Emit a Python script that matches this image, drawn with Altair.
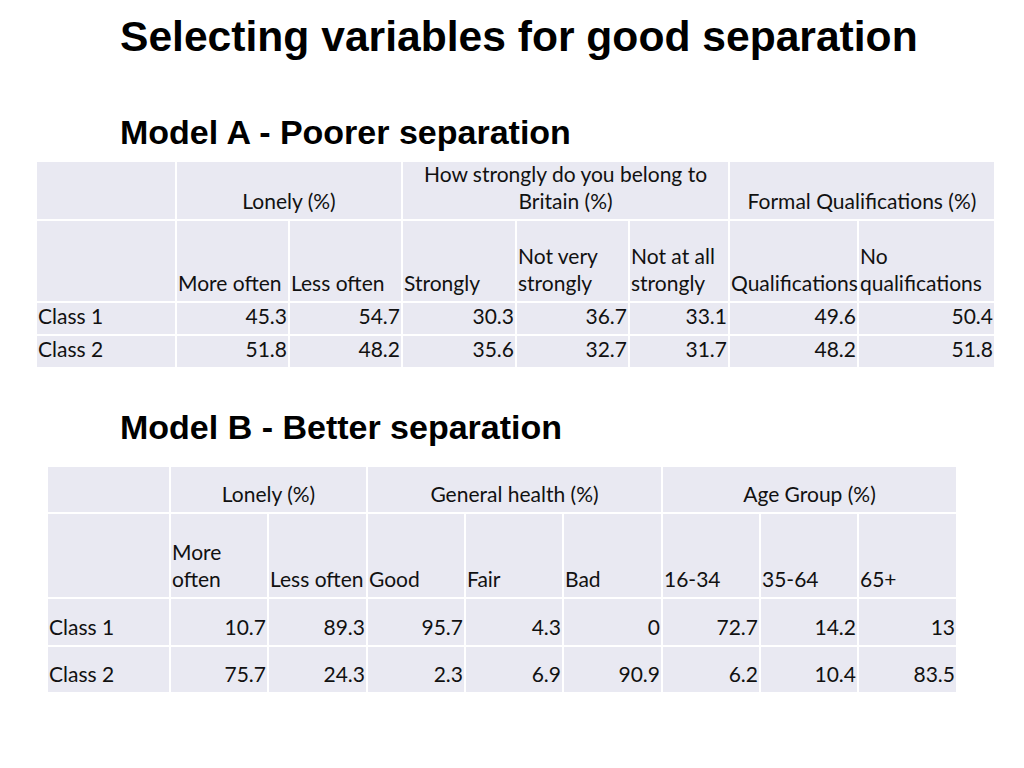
import altair as alt
import pandas as pd

# ---------------- data ----------------
title_main = "Selecting variables for good separation"
title_a = "Model A - Poorer separation"
title_b = "Model B - Better separation"

row_labels = ["Class 1", "Class 2"]

a_groups = ["Lonely (%)", "How strongly do you belong to\nBritain (%)", "Formal Qualifications (%)"]
a_spans = [2, 3, 2]
a_cats = ["More often", "Less often", "Strongly", "Not very\nstrongly", "Not at all\nstrongly",
          "Qualifications", "No\nqualifications"]
a_class1 = [45.3, 54.7, 30.3, 36.7, 33.1, 49.6, 50.4]
a_class2 = [51.8, 48.2, 35.6, 32.7, 31.7, 48.2, 51.8]

b_groups = ["Lonely (%)", "General health (%)", "Age Group (%)"]
b_spans = [2, 3, 3]
b_cats = ["More\noften", "Less often", "Good", "Fair", "Bad", "16-34", "35-64", "65+"]
b_class1 = [10.7, 89.3, 95.7, 4.3, 0, 72.7, 14.2, 13]
b_class2 = [75.7, 24.3, 2.3, 6.9, 90.9, 6.2, 10.4, 83.5]

# ---------------- layout (pixel grid of the slide) ----------------
A_X = [36, 176, 289, 402, 516, 629, 729, 858, 995]
A_Y = [161, 220, 302, 335, 368]
B_X = [47, 170, 268, 367, 465, 563, 662, 760, 858, 957]
B_Y = [466, 513, 598, 646, 693]
TITLE_POS = [(120, 51, 42.6), (120, 144, 34), (120, 439, 34)]
LINE_H = 27.5
TEXT_UP = 17
PAD = 2

FILL = "#e9e9f2"
FONT = "Lato"
FS = 21


def fmt(v):
    return f"{v:g}"


rects, texts = [], []


def build(xs, ys, groups, spans, cats, rows, vals):
    # header row 1
    rects.append(dict(x=xs[0], x2=xs[1], y=ys[0], y2=ys[1]))
    c = 1
    for g, s in zip(groups, spans):
        x0, x1 = xs[c], xs[c + s]
        rects.append(dict(x=x0, x2=x1, y=ys[0], y2=ys[1]))
        lines = g.split("\n")
        for k, ln in enumerate(lines):
            texts.append(dict(x=(x0 + x1) / 2, y=ys[1] - TEXT_UP - (len(lines) - 1 - k) * LINE_H,
                              t=ln, al="center"))
        c += s
    # header row 2
    rects.append(dict(x=xs[0], x2=xs[1], y=ys[1], y2=ys[2]))
    for i, cat in enumerate(cats):
        rects.append(dict(x=xs[i + 1], x2=xs[i + 2], y=ys[1], y2=ys[2]))
        lines = cat.split("\n")
        for k, ln in enumerate(lines):
            texts.append(dict(x=xs[i + 1] + PAD, y=ys[2] - TEXT_UP - (len(lines) - 1 - k) * LINE_H,
                              t=ln, al="left"))
    # data rows
    for r, (lab, rv) in enumerate(zip(rows, vals)):
        y0, y1 = ys[2 + r], ys[3 + r]
        rects.append(dict(x=xs[0], x2=xs[1], y=y0, y2=y1))
        texts.append(dict(x=xs[0] + PAD, y=y1 - TEXT_UP, t=lab, al="left"))
        for i, v in enumerate(rv):
            rects.append(dict(x=xs[i + 1], x2=xs[i + 2], y=y0, y2=y1))
            texts.append(dict(x=xs[i + 2] - PAD, y=y1 - TEXT_UP, t=fmt(v), al="right"))


build(A_X, A_Y, a_groups, a_spans, a_cats, row_labels, [a_class1, a_class2])
build(B_X, B_Y, b_groups, b_spans, b_cats, row_labels, [b_class1, b_class2])

rect_df = pd.DataFrame(rects)
text_df = pd.DataFrame(texts)
title_df = pd.DataFrame([dict(x=p[0], y=p[1], fs=p[2], t=t)
                         for p, t in zip(TITLE_POS, [title_main, title_a, title_b])])

W, H = 1008, 752
xs = alt.Scale(domain=[8, 8 + W], nice=False, zero=False)
ys = alt.Scale(domain=[8, 8 + H], nice=False, zero=False, reverse=True)

X = lambda f: alt.X(f"{f}:Q", scale=xs, axis=None)
Y = lambda f: alt.Y(f"{f}:Q", scale=ys, axis=None)

cells = alt.Chart(rect_df).mark_rect(fill=FILL, stroke="white", strokeWidth=2).encode(
    x=X("x"), x2="x2", y=Y("y"), y2="y2")

layers = [cells]
for al in ["left", "center", "right"]:
    layers.append(
        alt.Chart(text_df[text_df.al == al]).mark_text(
            align=al, baseline="middle", font=FONT, fontSize=FS, color="#111111"
        ).encode(x=X("x"), y=Y("y"), text="t:N")
    )

titles = alt.Chart(title_df).mark_text(
    align="left", baseline="alphabetic", font="Liberation Sans", fontWeight="bold", color="black"
).encode(x=X("x"), y=Y("y"), text="t:N",
         size=alt.Size("fs:Q", scale=None, legend=None))
layers.append(titles)

chart = alt.layer(*layers).properties(
    width=W, height=H, padding=0, autosize=alt.AutoSizeParams(type="none"),
    background="white"
).configure_view(stroke=None)

chart.save("out.html", embed_options={"renderer": "svg", "actions": False})
